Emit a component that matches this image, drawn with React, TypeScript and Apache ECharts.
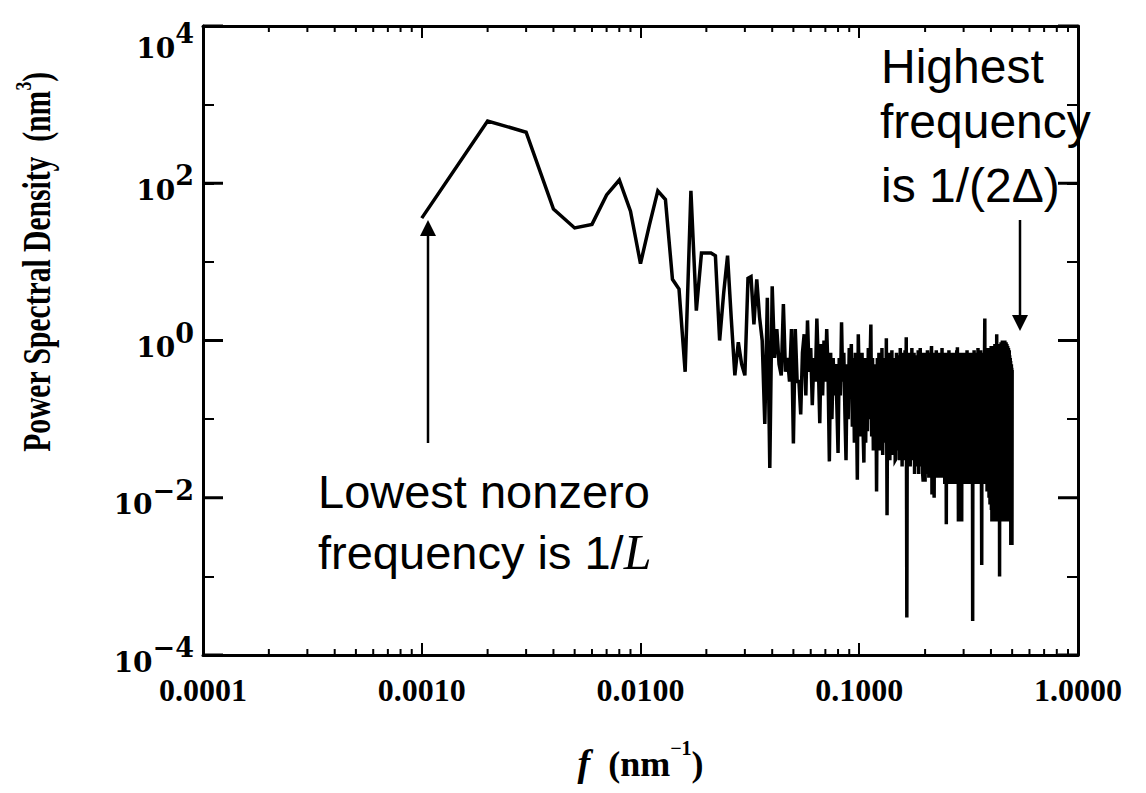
import React, { useEffect, useRef } from "react";
import * as echarts from "echarts";

// Frequency spacing = 1/L (nm^-1); sample k sits at f = k * FREQ_STEP
const FREQ_STEP = 0.001;
const X_MIN = 0.0001;
const X_MAX = 1;
const Y_MIN = 1e-4;
const Y_MAX = 1e4;

// Power spectral density (nm^3), one value per frequency sample
const psd: number[] = [
  36, 620, 446, 47, 27, 30, 71, 110, 44, 9.5,
  30, 80, 62, 6, 4.5, 0.4, 80, 2.4, 13, 13,
  13, 12, 1.0, 4, 12, 1.9, 0.36, 0.95, 0.5, 0.36,
  6.2, 6.5, 1.6, 6, 2, 1.0, 0.087, 3.5, 0.024, 4.9,
  0.6, 1.4, 0.5, 0.36, 2.9, 0.4, 0.6, 0.3, 1.4, 0.049,
  1.4, 0.3, 0.3, 0.115, 0.7, 1.2, 0.2, 1.8, 0.4, 0.8,
  0.15, 0.6, 0.3, 1.9, 0.5, 0.089, 0.9, 0.2, 1.0, 0.3,
  1.4, 0.4, 0.029, 0.7, 0.1, 0.6, 0.2, 0.5, 0.15, 0.037,
  0.6, 0.2, 1.7, 0.3, 0.7, 0.12, 0.03, 0.5, 0.1, 0.8,
  0.3, 0.9, 0.08, 0.6, 0.05, 0.7, 0.2, 0.017, 1.2, 0.3,
  0.5, 0.06, 0.7, 0.08, 0.028, 0.6, 0.05, 0.45, 0.07, 0.8,
  0.1, 0.5, 1.6, 0.06, 0.6, 0.04, 0.4, 0.07, 0.5, 0.012,
  0.6, 0.05, 0.7, 0.04, 0.5, 0.08, 0.8, 0.035, 0.45, 0.06,
  0.6, 0.05, 1.07, 0.006, 0.5, 0.04, 0.7, 0.03, 0.55, 0.06,
  0.75, 0.035, 0.5, 0.05, 0.6, 0.03, 0.031, 0.7, 0.04, 0.5,
  0.05, 0.65, 0.03, 0.8, 0.05, 0.45, 0.025, 0.7, 0.04, 0.55,
  0.03, 0.75, 0.05, 1.1, 0.0003, 0.6, 0.03, 0.5, 0.04, 0.7,
  0.025, 0.6, 0.035, 0.8, 0.03, 0.45, 0.03, 0.7, 0.02, 0.55,
  0.035, 0.65, 0.025, 0.5, 0.04, 0.75, 0.02, 0.6, 0.03, 0.8,
  0.025, 0.55, 0.035, 0.7, 0.02, 0.016, 0.6, 0.025, 0.5, 0.016,
  0.7, 0.03, 0.55, 0.02, 0.75, 0.025, 0.6, 0.018, 0.5, 0.03,
  0.7, 0.02, 0.65, 0.85, 0.011, 0.6, 0.025, 0.7, 0.02, 0.01,
  0.6, 0.025, 0.5, 0.018, 0.75, 0.03, 0.55, 0.02, 0.7, 0.018,
  0.6, 0.025, 0.45, 0.02, 0.7, 0.018, 0.6, 0.025, 0.8, 0.02,
  0.55, 0.018, 0.7, 0.025, 0.6, 0.015, 0.5, 0.02, 0.65, 0.0046,
  0.7, 0.018, 0.55, 0.02, 0.6, 0.015, 0.75, 0.018, 0.5, 0.02,
  0.65, 0.015, 0.55, 0.02, 0.7, 0.018, 0.6, 0.015, 0.5, 0.02,
  0.7, 0.015, 0.6, 0.018, 0.55, 0.015, 0.65, 0.02, 0.75, 0.018,
  0.82, 0.015, 0.6, 0.005, 0.55, 0.018, 0.7, 0.015, 0.6, 0.005,
  0.65, 0.018, 0.55, 0.005, 0.7, 0.015, 0.6, 0.018, 0.5, 0.015,
  0.6, 0.02, 0.7, 0.03, 0.55, 0.015, 0.65, 0.025, 0.6, 0.02,
  0.75, 0.03, 0.55, 0.02, 0.6, 0.015, 0.7, 0.025, 0.5, 0.02,
  0.65, 0.015, 0.6, 0.03, 0.7, 0.02, 0.55, 0.015, 0.6, 0.00027,
  0.7, 0.02, 0.6, 0.015, 0.75, 0.025, 0.55, 0.02, 0.65, 0.015,
  0.6, 0.02, 0.7, 0.015, 0.55, 0.025, 0.65, 0.02, 0.8, 0.015,
  0.6, 0.02, 0.7, 0.015, 0.55, 0.02, 0.65, 0.015, 0.75, 0.02,
  0.6, 0.015, 0.0014, 0.7, 0.02, 0.55, 0.015, 0.65, 0.02, 0.7,
  0.015, 0.6, 0.02, 0.8, 1.9, 0.015, 0.7, 0.02, 0.6, 0.015,
  0.75, 0.02, 0.65, 0.012, 0.7, 0.015, 0.8, 0.012, 0.6, 0.015,
  0.75, 0.01, 0.65, 0.015, 0.7, 0.0082, 0.8, 0.012, 0.6, 0.01,
  0.85, 0.007, 0.7, 0.005, 0.75, 0.007, 0.65, 0.006, 0.8, 0.007,
  0.7, 0.005, 0.85, 0.007, 0.75, 0.006, 0.9, 0.007, 0.7, 0.005,
  0.8, 0.007, 0.9, 0.006, 1.2, 0.007, 0.75, 0.005, 0.85, 0.007,
  0.8, 0.006, 0.9, 0.007, 0.75, 0.006, 0.85, 0.001, 0.8, 0.007,
  0.9, 0.006, 0.8, 0.007, 0.95, 0.005, 0.85, 0.007, 0.9, 0.006,
  1.0, 0.007, 0.85, 0.006, 0.95, 0.007, 0.8, 0.005, 0.9, 0.007,
  0.95, 0.006, 1.0, 0.007, 0.85, 0.005, 0.9, 0.006, 0.95, 0.007,
  0.85, 0.006, 0.9, 0.007, 0.8, 0.005, 0.85, 0.007, 0.75, 0.006,
  0.8, 0.007, 0.7, 0.005, 0.75, 0.006, 0.65, 0.007, 0.0053, 0.6,
  0.007, 0.55, 0.0025, 0.5, 0.006, 0.5, 0.007, 0.45, 0.0025, 0.42,
];

// Minor tick positions (x: 2..9 per decade); y: even decades get long ticks
const xMinorTicks: number[] = [
  0.0002, 0.0003, 0.0004, 0.0005, 0.0006, 0.0007, 0.0008, 0.0009,
  0.002, 0.003, 0.004, 0.005, 0.006, 0.007, 0.008, 0.009,
  0.02, 0.03, 0.04, 0.05, 0.06, 0.07, 0.08, 0.09,
  0.2, 0.3, 0.4, 0.5, 0.6, 0.7, 0.8, 0.9,
];
const yLongTicks: number[] = [1e-4, 1e-2, 1, 1e2, 1e4];

const serifBold = "'Liberation Serif', 'Times New Roman', serif";
const dejaSerif = "'DejaVu Serif', serif";
const sansFont = "'Liberation Sans', Arial, sans-serif";

export default function App() {
  const ref = useRef<HTMLDivElement>(null);

  useEffect(() => {
    if (!ref.current) return;
    const chart = echarts.init(ref.current, undefined, { renderer: "svg" });

    const lineData = psd.map((v, i) => [(i + 1) * FREQ_STEP, v]);

    const axisLine = { show: true, onZero: false, lineStyle: { color: "#000", width: 3 } };

    const yLabel = {
      show: true,
      margin: 9,
      showMinLabel: true,
      showMaxLabel: true,
      formatter: (v: number) => {
        const e = Math.round(Math.log10(v));
        if (e % 2 !== 0) return "";
        const s = e < 0 ? "\u2212" + -e : String(e);
        if (e === 4) return `{e| }\n{b|10}{s|${s}}`;
        return `{b|10}{s|${s}}`;
      },
      rich: {
        e: { fontSize: 10, lineHeight: 30 },
        b: { fontFamily: dejaSerif, fontWeight: "bold", fontSize: 28, lineHeight: 42, verticalAlign: "bottom", color: "#000" },
        s: { fontFamily: dejaSerif, fontWeight: "bold", fontSize: 27, lineHeight: 27, verticalAlign: "top", color: "#000" },
      },
    };

    const option: any = {
      animation: false,
      backgroundColor: "#fff",
      grid: { left: 203, top: 15, width: 875, height: 640, containLabel: false },
      xAxis: [
        {
          type: "log",
          logBase: 10,
          min: X_MIN,
          max: X_MAX,
          position: "bottom",
          axisLine,
          axisTick: { show: true, inside: true, length: 12, lineStyle: { color: "#000", width: 2 } },
          minorTick: { show: false },
          splitLine: { show: false },
          axisLabel: {
            show: true,
            margin: 19,
            showMinLabel: true,
            showMaxLabel: true,
            formatter: (v: number) => v.toFixed(4),
            fontFamily: serifBold,
            fontWeight: "bold",
            fontSize: 32,
            color: "#000",
          },
          name: "{f|f}{n|  (nm}{s|\u22121}{n|)}",
          nameLocation: "middle",
          nameGap: 83,
          nameTextStyle: {
            rich: {
              f: { fontFamily: serifBold, fontStyle: "italic", fontWeight: "bold", fontSize: 38, lineHeight: 44, verticalAlign: "bottom", color: "#000" },
              n: { fontFamily: serifBold, fontWeight: "bold", fontSize: 36, lineHeight: 44, verticalAlign: "bottom", color: "#000" },
              s: { fontFamily: serifBold, fontWeight: "bold", fontSize: 20, lineHeight: 20, verticalAlign: "top", color: "#000" },
            },
          },
        },
        {
          type: "log",
          logBase: 10,
          min: X_MIN,
          max: X_MAX,
          position: "top",
          axisLine,
          axisTick: { show: true, inside: true, length: 12, lineStyle: { color: "#000", width: 2 } },
          axisLabel: { show: false },
          splitLine: { show: false },
        },
      ],
      yAxis: [
        {
          type: "log",
          logBase: 10,
          min: Y_MIN,
          max: Y_MAX,
          position: "left",
          axisLine,
          axisTick: { show: true, inside: true, length: 11, lineStyle: { color: "#000", width: 2 } },
          splitLine: { show: false },
          axisLabel: yLabel,
        },
        {
          type: "log",
          logBase: 10,
          min: Y_MIN,
          max: Y_MAX,
          position: "right",
          axisLine,
          axisTick: { show: true, inside: true, length: 11, lineStyle: { color: "#000", width: 2 } },
          splitLine: { show: false },
          axisLabel: { show: false },
        },
      ],
      series: [
        {
          type: "line",
          xAxisIndex: 0,
          yAxisIndex: 0,
          data: lineData,
          showSymbol: false,
          symbol: "none",
          lineStyle: { color: "#000", width: 3.5, join: "miter" },
          silent: true,
          z: 3,
        },
        {
          type: "custom",
          xAxisIndex: 0,
          yAxisIndex: 0,
          silent: true,
          z: 5,
          data: xMinorTicks.map((v) => [v, Y_MIN]),
          renderItem: (_p: any, api: any) => {
            const v = api.value(0);
            const b = api.coord([v, Y_MIN]);
            const t = api.coord([v, Y_MAX]);
            return {
              type: "group",
              children: [
                { type: "line", shape: { x1: b[0], y1: b[1], x2: b[0], y2: b[1] - 6 }, style: { stroke: "#000", lineWidth: 2 } },
                { type: "line", shape: { x1: t[0], y1: t[1], x2: t[0], y2: t[1] + 6 }, style: { stroke: "#000", lineWidth: 2 } },
              ],
            };
          },
        },
        {
          type: "custom",
          xAxisIndex: 0,
          yAxisIndex: 0,
          silent: true,
          z: 5,
          data: yLongTicks.map((v) => [X_MIN, v]),
          renderItem: (_p: any, api: any) => {
            const v = api.value(1);
            const l = api.coord([X_MIN, v]);
            const r = api.coord([X_MAX, v]);
            return {
              type: "group",
              children: [
                { type: "line", shape: { x1: l[0], y1: l[1], x2: l[0] + 20, y2: l[1] }, style: { stroke: "#000", lineWidth: 3 } },
                { type: "line", shape: { x1: r[0], y1: r[1], x2: r[0] - 20, y2: r[1] }, style: { stroke: "#000", lineWidth: 3 } },
              ],
            };
          },
        },
      ],
      graphic: [
        {
          type: "text",
          x: 34,
          y: 262,
          rotation: Math.PI / 2,
          scaleX: 0.74,
          style: {
            text: "{a|Power Spectral Density  (nm}{s|3}{a|)}",
            align: "center",
            verticalAlign: "middle",
            rich: {
              a: { fontFamily: serifBold, fontWeight: "bold", fontSize: 40, lineHeight: 46, verticalAlign: "bottom", fill: "#000" },
              s: { fontFamily: serifBold, fontWeight: "bold", fontSize: 24, lineHeight: 24, verticalAlign: "top", fill: "#000" },
            },
          },
        },
        // Arrow to lowest frequency
        { type: "line", shape: { x1: 428, y1: 443, x2: 428, y2: 232 }, style: { stroke: "#000", lineWidth: 2.5 } },
        { type: "polygon", shape: { points: [[420, 236], [436, 236], [428, 220]] }, style: { fill: "#000" } },
        // Arrow to highest frequency
        { type: "line", shape: { x1: 1020, y1: 220, x2: 1020, y2: 318 }, style: { stroke: "#000", lineWidth: 2.5 } },
        { type: "polygon", shape: { points: [[1012, 315], [1028, 315], [1020, 331]] }, style: { fill: "#000" } },
        {
          type: "text",
          x: 318,
          y: 491,
          style: { text: "Lowest nonzero", fontFamily: sansFont, fontSize: 47, fill: "#000", align: "left", verticalAlign: "middle" },
        },
        {
          type: "text",
          x: 318,
          y: 552,
          style: {
            text: "{a|frequency is 1/}{i|L}",
            align: "left",
            verticalAlign: "middle",
            rich: {
              a: { fontFamily: sansFont, fontSize: 47, fill: "#000" },
              i: { fontFamily: serifBold, fontStyle: "italic", fontSize: 50, fill: "#000" },
            },
          },
        },
        { type: "text", x: 881, y: 66, style: { text: "Highest", fontFamily: sansFont, fontSize: 48, fill: "#000", align: "left", verticalAlign: "middle" } },
        { type: "text", x: 880, y: 121, style: { text: "frequency", fontFamily: sansFont, fontSize: 48, fill: "#000", align: "left", verticalAlign: "middle" } },
        { type: "text", x: 881, y: 185, style: { text: "is 1/(2\u0394)", fontFamily: sansFont, fontSize: 48, fill: "#000", align: "left", verticalAlign: "middle" } },
      ],
    };

    chart.setOption(option);
    return () => chart.dispose();
  }, []);

  return (
    <div
      ref={ref}
      style={{ position: "fixed", left: 0, top: 0, width: 1146, height: 793, background: "#fff" }}
    />
  );
}
